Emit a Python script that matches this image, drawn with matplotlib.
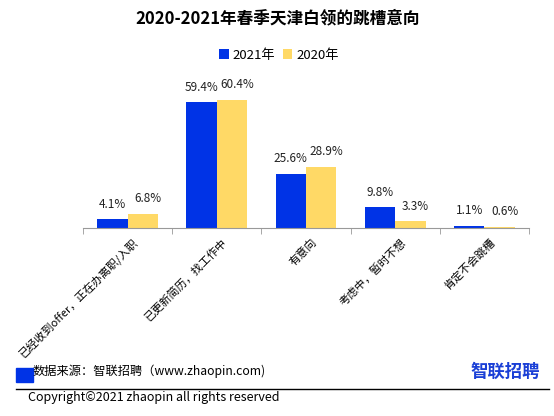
import matplotlib.pyplot as plt
import matplotlib.transforms as mtransforms
import numpy as np

plt.rcParams['font.family'] = ['Noto Sans CJK SC', 'DejaVu Sans']

# data
categories = ['已经收到offer，正在办离职/入职', '已更新简历，找工作中', '有意向', '考虑中，暂时不想', '肯定不会跳槽']
y2021 = [4.1, 59.4, 25.6, 9.8, 1.1]
y2020 = [6.8, 60.4, 28.9, 3.3, 0.6]
series_names = ['2021年', '2020年']

blue = '#0033E6'
yellow = '#FFD966'

W, H = 554, 416
fig = plt.figure(figsize=(W / 100, H / 100), dpi=100)
# axes: x 83..529 px, baseline at y=228 px, 2.12 px per percent
ax = fig.add_axes([83 / W, 1 - 228 / H, 446 / W, 70 * 2.12 / H])

x = np.arange(len(categories))
w = 0.34
b1 = ax.bar(x - w/2, y2021, w, color=blue, label=series_names[0])
b2 = ax.bar(x + w/2, y2020, w, color=yellow, label=series_names[1])

# value labels (2020 labels nudged right a bit, like the original)
for bars, dx in ((b1, 0), (b2, 5)):
    for r in bars:
        ax.annotate(f'{r.get_height():.1f}%', (r.get_x() + r.get_width()/2, r.get_height()),
                    xytext=(dx, 15), textcoords='offset pixels',
                    ha='center', va='center', fontsize=8.5, color='#222222')

ax.set_xlim(-0.5, len(categories) - 0.5)
ax.set_ylim(0, 70)
ax.set_yticks([])
for s in ['top', 'right', 'left']:
    ax.spines[s].set_visible(False)
ax.spines['bottom'].set_color('#999999')
ax.set_xticks(np.arange(len(categories) + 1) - 0.5, minor=True)
ax.tick_params(axis='x', which='minor', length=4.5, color='#999999')
ax.set_xticks(x)
ax.set_xticklabels(categories, rotation=45, ha='right', va='center',
                   rotation_mode='anchor', fontsize=8)
ax.tick_params(axis='x', which='major', length=0, pad=9)
shift = mtransforms.ScaledTranslation(9 / 100, 0, fig.dpi_scale_trans)
for lab in ax.get_xticklabels():
    lab.set_transform(lab.get_transform() + shift)

fig.text(278 / W, 1 - 18 / H, '2020-2021年春季天津白领的跳槽意向', ha='center', va='center',
         fontsize=12, fontweight='bold')
fig.legend(loc='center', bbox_to_anchor=(279 / W, 1 - 55 / H), ncol=2, frameon=False,
           fontsize=9.5, handlelength=0.7, handleheight=0.7, handletextpad=0.3, columnspacing=0.6)

# footer
fig.patches.append(plt.Rectangle((16 / W, 1 - 382 / H), 17 / W, 14 / H, transform=fig.transFigure,
                                 color=blue, zorder=3))
fig.text(33 / W, 1 - 371 / H, '数据来源：智联招聘（www.zhaopin.com)', fontsize=8.8, va='center')
fig.text(540 / W, 1 - 372 / H, '智联招聘', fontsize=12.5, fontweight='bold', color='#1a3fd6',
         ha='right', va='center')
fig.add_artist(plt.Line2D([16 / W, 549 / W], [1 - 389 / H, 1 - 389 / H], color='black', lw=1))
fig.text(28 / W, 1 - 398 / H, 'Copyright©2021 zhaopin all rights reserved', fontsize=9, va='center')

fig.savefig('out.png', dpi=100)
